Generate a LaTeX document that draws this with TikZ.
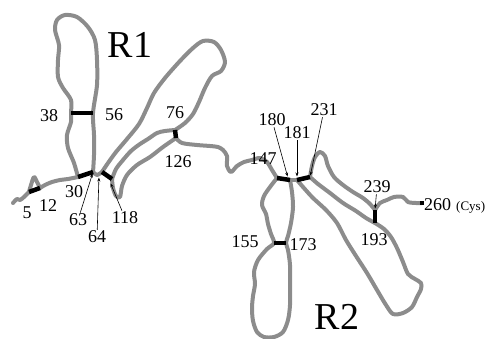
\documentclass[tikz,border=0pt]{standalone}
\usepackage{fontspec}
\setmainfont{Liberation Serif}
\usetikzlibrary{arrows.meta}

\definecolor{tracegray}{RGB}{140,140,140}
\tikzset{
  backbone/.style={tracegray, line width=4pt, line cap=round, line join=round},
  bond/.style={black, line width=4.5pt},
  num/.style={font=\fontsize{18}{18}\selectfont, inner sep=1pt},
  region/.style={font=\fontsize{38}{38}\selectfont, inner sep=0pt},
  ptr/.style={black, line width=0.6pt, -{Stealth[length=4pt,width=3pt]}, shorten >=1.5pt},
  endmark/.style={fill=black, inner sep=0pt, minimum size=4pt}
}

\begin{document}
\begin{tikzpicture}[x=1pt, y=-1pt]
\useasboundingbox (0,0) rectangle (489,339);

% residues where the bars sit
\coordinate (r5) at (29,192);   \coordinate (r12) at (40,188);
\coordinate (r30) at (78,177);  \coordinate (r63) at (93,172);
\coordinate (r38) at (71,113);  \coordinate (r56) at (93,113);
\coordinate (r64) at (102,172); \coordinate (r118) at (112,179);
\coordinate (r76) at (175,130); \coordinate (r126) at (176,138);
\coordinate (r147) at (277,178); \coordinate (r180) at (290,180);
\coordinate (r181) at (297,180); \coordinate (r231) at (310,177);
\coordinate (r155) at (274,243); \coordinate (r173) at (286,243);
\coordinate (r193) at (375,223); \coordinate (r239) at (375,210);
\coordinate (r260) at (422,203);

% backbone trace
\draw[backbone] plot[smooth, tension=0.5] coordinates {(13,203) (17,199) (20,200) (24,197) (r5)};
\draw[backbone] plot[smooth, tension=0.5] coordinates {(r5) (31,185) (34,177) (37,182) (r12)};
\draw[backbone] plot[smooth, tension=0.5] coordinates {(r12) (45,185) (52,182) (60,180) (68,179) (r30)};
\draw[backbone] plot[smooth, tension=0.5] coordinates {(r30) (74,163) (68,148) (67,135) (71,122) (r38)
  (71,100) (63,88) (58,77) (58,60) (59,45) (55,30) (57,20) (65,15) (77,17) (88,27) (95,40) (97,60)
  (97,85) (r56) (94,135) (94,155) (r63)};
\draw[backbone] plot[smooth, tension=0.5] coordinates {(r63) (97,175) (r64)};
\draw[backbone] plot[smooth, tension=0.5] coordinates {(r64) (108,163) (116,152) (127,139) (139,124)
  (147,108) (154,93) (165,78) (180,61) (193,48) (203,41) (214,42) (221,50) (225,62) (221,71)
  (212,76) (205,88) (199,102) (193,114) (185,123) (r76)};
\draw[backbone] plot[smooth, tension=0.5] coordinates {(r76) (165,131) (157,133) (148,139) (140,144)
  (131,151) (123,160) (116,169) (r118)};
\draw[backbone] plot[smooth, tension=0.5] coordinates {(r118) (113,188) (116,196) (120,197) (122,186)
  (127,175) (137,165) (150,157) (163,147) (r126)};
\draw[backbone] plot[smooth, tension=0.5] coordinates {(r126) (182,143) (197,145) (210,146) (218,147)
  (223,150) (227,156) (227,166) (231,172) (237,166) (244,162) (252,160) (260,158) (267,162)
  (272,170) (r147)};
\draw[backbone] plot[smooth, tension=0.5] coordinates {(r147) (270,187) (264,196) (262,205) (266,214)
  (268,224) (271,234) (r155) (267,249) (258,260) (254,272) (255,284) (253,296) (252,308) (253,321)
  (257,332) (264,337) (274,337) (283,332) (288,320) (290,305) (290,285) (290,265) (288,250) (r173)
  (288,236) (291,223) (293,207) (292,192) (r180)};
\draw[backbone] (r180) -- (r181);
\draw[backbone] plot[smooth, tension=0.5] coordinates {(r181) (303,187) (313,198) (326,210) (337,223)
  (346,240) (356,256) (367,273) (377,290) (386,305) (393,314) (403,313) (412,307) (417,297)
  (421,289) (421,283) (415,279) (408,274) (403,262) (397,248) (391,237) (384,229) (r193)};
\draw[backbone] plot[smooth, tension=0.5] coordinates {(r193) (366,218) (356,211) (343,203) (330,193)
  (318,184) (r231)};
\draw[backbone] plot[smooth, tension=0.5] coordinates {(r231) (312,166) (315,157) (320,152) (325,156)
  (328,166) (334,177) (343,185) (353,192) (363,198) (370,204) (r239)};
\draw[backbone] plot[smooth, tension=0.5] coordinates {(r239) (380,203) (387,200) (394,197) (403,197)
  (408,202) (416,203) (r260)};

% disulfide bars
\draw[bond] (r5) -- (r12);
\draw[bond] (r30) -- (r63);
\draw[bond] (r38) -- (r56);
\draw[bond] (r64) -- (r118);
\draw[bond] (r76) -- (r126);
\draw[bond] (r147) -- (r180);
\draw[bond] (r181) -- (r231);
\draw[bond] (r155) -- (r173);
\draw[bond] (r239) -- (r193);
\node[endmark] (c260) at (r260) {};

% domain names
\node[region] (R1) at (130,45) {R1};
\node[region] (R2) at (337,317) {R2};

% residue numbers
\node[num] (l5) at (27,213) {5};
\node[num] (l12) at (48,206) {12};
\node[num] (l30) at (74,192) {30};
\node[num] (l38) at (49,116) {38};
\node[num] (l56) at (114,115) {56};
\node[num] (l63) at (78,220) {63};
\node[num] (l64) at (97,237) {64};
\node[num] (l76) at (175,113) {76};
\node[num] (l118) at (125,218) {118};
\node[num] (l126) at (178,162) {126};
\node[num] (l147) at (263,159) {147};
\node[num] (l155) at (245,242) {155};
\node[num] (l173) at (303,245) {173};
\node[num] (l180) at (272,120) {180};
\node[num] (l181) at (297,133) {181};
\node[num] (l231) at (324,110) {231};
\node[num] (l193) at (374,240) {193};
\node[num] (l239) at (377,187) {239};
\node[num, anchor=west] (l260) at (423,205) {260};
\node[font=\fontsize{13}{13}\selectfont, anchor=west, inner sep=0pt] (cys) at (456,207) {(Cys)};

% pointers
\draw[ptr] (l63) -- (r63);
\draw[ptr] (l64) -- (99,176);
\draw[ptr] (l118) -- (110,182);
\draw[ptr] (l180) -- (288,178);
\draw[ptr] (l181) -- (297,178);
\draw[ptr] (l231) -- (r231);
\draw[ptr] (l239) -- (r239);
\end{tikzpicture}
\end{document}
